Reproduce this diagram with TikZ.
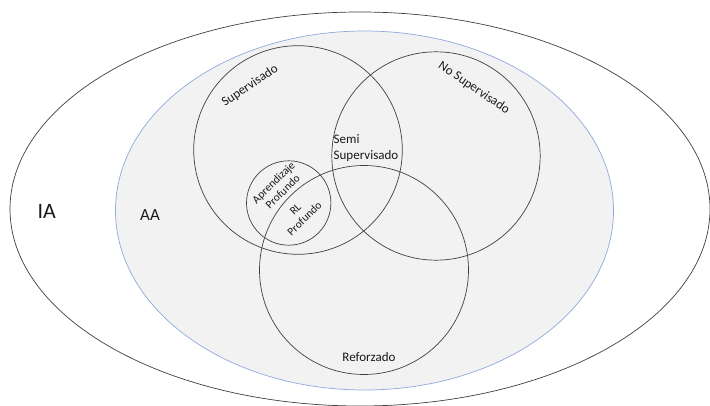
\documentclass[tikz,border=0pt]{standalone}
\usepackage{fontspec}
\setmainfont{Carlito}
\definecolor{aafill}{HTML}{F2F2F2}
\definecolor{aaline}{HTML}{8FAADC}
\definecolor{ring}{HTML}{404040}
\definecolor{ink}{HTML}{1A1A1A}
\begin{document}
\begin{tikzpicture}[x=1pt,y=-1pt,
  ring/.style={draw=ring,line width=0.7pt},
  lbl/.style={text=ink,inner sep=0pt,font=\fontsize{13}{16}\selectfont},
  small/.style={text=ink,inner sep=0pt,align=center,font=\fontsize{11.3}{13}\selectfont}]
\useasboundingbox (0,0) rectangle (710,406);
\fill[white] (0,0) rectangle (710,406);
% IA
\draw[ring] (360,209) ellipse [x radius=350,y radius=197];
% AA
\draw[fill=aafill,draw=aaline,line width=0.7pt] (364.5,210.5) ellipse [x radius=249,y radius=179.5];
% learning paradigms
\draw[ring] (298,150) circle [radius=104.3];
\draw[ring] (436,156) circle [radius=104.2];
\draw[ring] (364,270) circle [radius=104.5];
% deep learning
\draw[ring] (288.7,203) circle [radius=42.2];
% labels
\node[text=ink,inner sep=0pt,anchor=base,font=\fontsize{22}{24}\selectfont] (ia) at (46.7,218.5) {IA};
\node[text=ink,inner sep=0pt,anchor=base,font=\fontsize{17}{20}\selectfont] (aa) at (150,220.5) {AA};
\node[lbl,rotate=34] (sup) at (250,86) {Supervisado};
\node[lbl,rotate=-34] (nosup) at (474,88) {No Supervisado};
\node[lbl,align=left,anchor=west] (semi) at (333.5,148) {Semi\\Supervisado};
\node[lbl,anchor=base] (ref) at (369,361.5) {Reforzado};
\node[small,rotate=44] (dl) at (278,187) {Aprendizaje\\Profundo};
\node[small,rotate=44] (rl) at (300,214) {RL\\Profundo};
\end{tikzpicture}
\end{document}
